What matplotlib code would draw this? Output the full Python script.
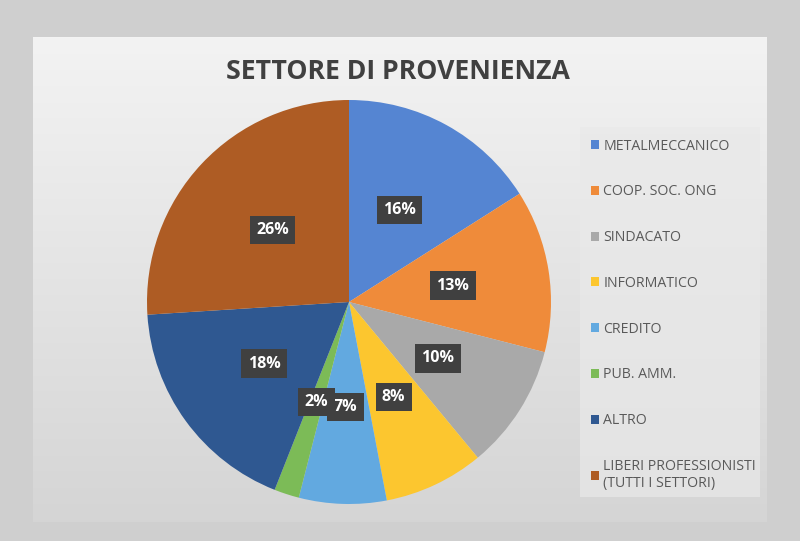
import numpy as np
import matplotlib.pyplot as plt
from matplotlib.patches import Rectangle

categories = ['METALMECCANICO', 'COOP. SOC. ONG', 'SINDACATO', 'INFORMATICO',
              'CREDITO', 'PUB. AMM.', 'ALTRO',
              'LIBERI PROFESSIONISTI\n(TUTTI I SETTORI)']
values = [16, 13, 10, 8, 7, 2, 18, 26]
colors = ['#5585d2', '#ef8b3a', '#a9a9a9', '#fcc62f',
          '#62a9e0', '#7cbb57', '#2f5891', '#ae5c24']

W, H = 800, 541
fig = plt.figure(figsize=(8, 5.41), dpi=100)
fig.patch.set_facecolor('#cfcfcf')

# inner panel with vertical gradient
bg = fig.add_axes([33 / W, (H - 522) / H, (767 - 33) / W, (522 - 37) / H])
grad = np.linspace(0, 1, 256).reshape(-1, 1)
top = np.array([0.953, 0.953, 0.953])
bot = np.array([0.835, 0.835, 0.835])
img = top + (bot - top) * grad[..., None]
bg.imshow(img, aspect='auto', extent=[0, 1, 0, 1])
bg.set_axis_off()

# legend box
fig.patches.append(Rectangle((580 / W, (H - 497) / H), 180 / W, 370 / H,
                             transform=fig.transFigure, facecolor='#e9e9e9',
                             edgecolor='none', alpha=0.7, zorder=1))

fig.text(398 / W, 1 - 72 / H, 'SETTORE DI PROVENIENZA', ha='center', va='center',
         fontsize=19.2, fontweight='bold', color='#404040', family='Open Sans')

cx, cy, r = 349, 302, 202
ax = fig.add_axes([(cx - r) / W, (H - cy - r) / H, 2 * r / W, 2 * r / H])
wedges, texts, autotexts = ax.pie(values, colors=colors, startangle=90, counterclock=False,
                                  autopct='%1.0f%%', pctdistance=0.52,
                                  wedgeprops=dict(linewidth=0))
for t in autotexts:
    t.set_color('white')
    t.set_fontsize(11.5)
    t.set_fontweight('bold')
    t.set_family('Open Sans')
    t.set_bbox(dict(boxstyle='square,pad=0.4', facecolor='#404040', edgecolor='none'))
ax.set_xlim(-1, 1)
ax.set_ylim(-1, 1)
ax.set_aspect('equal')

leg = fig.legend(wedges, categories, loc='upper left',
                 bbox_to_anchor=(585 / W, 1 - 133 / H), frameon=False,
                 prop={'family': 'Open Sans', 'size': 10.2},
                 handlelength=0.6, handleheight=0.6, handletextpad=0.3,
                 labelspacing=2.17, borderaxespad=0)
for t in leg.get_texts():
    t.set_color('#595959')

fig.savefig('out.png', dpi=100, facecolor=fig.get_facecolor())
